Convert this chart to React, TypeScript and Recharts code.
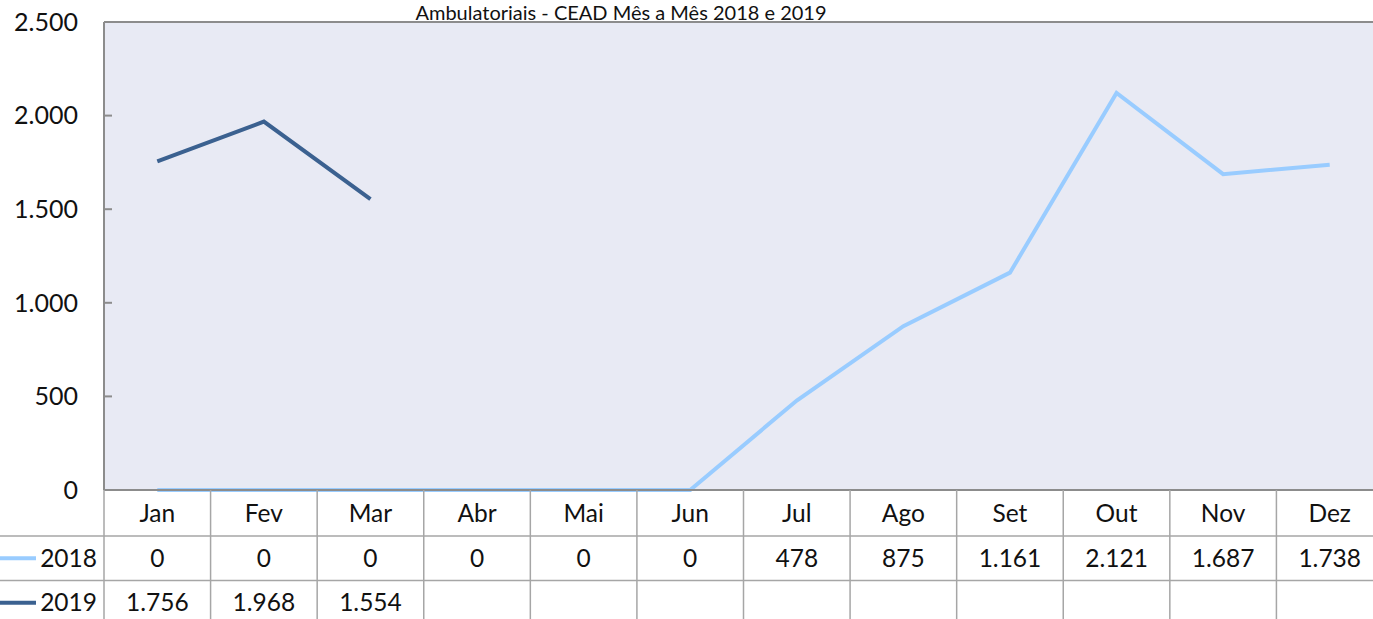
import React from "react";
import {
  LineChart,
  Line,
  XAxis,
  YAxis,
  CartesianGrid,
  ReferenceLine,
} from "recharts";

const months = ["Jan", "Fev", "Mar", "Abr", "Mai", "Jun", "Jul", "Ago", "Set", "Out", "Nov", "Dez"];
const values2018 = [0, 0, 0, 0, 0, 0, 478, 875, 1161, 2121, 1687, 1738];
const values2019: (number | null)[] = [1756, 1968, 1554, null, null, null, null, null, null, null, null, null];
const yTicks = [0, 500, 1000, 1500, 2000, 2500];

const COLOR_2018 = "#99CCFF";
const COLOR_2019 = "#3B6190";
const BORDER = "#8C8C8C";
const GRID = "#A6A6A6";
const FONT = "Lato, 'Open Sans', sans-serif";

const CHART_W = 1383;
const CHART_H = 640;
const Y_AXIS_W = 104;
const PLOT_W = CHART_W - Y_AXIS_W;
const BAND = PLOT_W / months.length;
const HEAD_H = 46;
const ROW_H = 44.5;

const fmt = (n: number) =>
  n.toString().replace(/\B(?=(\d{3})+(?!\d))/g, ".");

const chartData = months.map((m, i) => ({
  month: m,
  y2018: values2018[i],
  y2019: values2019[i],
}));

const YTick = ({ x, y, payload }: any) => (
  <g>
    <text
      x={x}
      y={y}
      dy="0.35em"
      textAnchor="end"
      fontSize={25}
      fontFamily={FONT}
      fill="#111"
    >
      {fmt(payload.value)}
    </text>
    {payload.value !== 0 && payload.value !== 2500 && (
      <line x1={x + 26} x2={x + 34} y1={y} y2={y} stroke={BORDER} strokeWidth={2} />
    )}
  </g>
);

const TableTick = ({ x, y, payload, index }: any) => {
  const left = x - BAND / 2;
  const right = x + BAND / 2;
  const v18 = values2018[index];
  const v19 = values2019[index];
  const line1 = y + HEAD_H;
  const line2 = line1 + ROW_H;
  const rows = [
    { label: "2018", color: COLOR_2018 },
    { label: "2019", color: COLOR_2019 },
  ];
  return (
    <g fontFamily={FONT} fontSize={24.5} fill="#111">
      {/* cell borders */}
      <line x1={right} x2={right} y1={y} y2={y + 200} stroke={GRID} strokeWidth={1.5} />
      <line x1={left} x2={right} y1={line1} y2={line1} stroke={GRID} strokeWidth={1.5} />
      <line x1={left} x2={right} y1={line2} y2={line2} stroke={GRID} strokeWidth={1.5} />
      <text x={x} y={y + HEAD_H / 2} dy="0.35em" textAnchor="middle">
        {payload.value}
      </text>
      <text x={x} y={line1 + ROW_H / 2} dy="0.35em" textAnchor="middle">
        {v18 != null ? fmt(v18) : ""}
      </text>
      <text x={x} y={line2 + ROW_H / 2} dy="0.35em" textAnchor="middle">
        {v19 != null ? fmt(v19) : ""}
      </text>
      {index === 0 && (
        <g>
          <line x1={left} x2={left} y1={y} y2={y + 200} stroke={GRID} strokeWidth={1.5} />
          <line x1={0} x2={left} y1={line1} y2={line1} stroke={GRID} strokeWidth={1.5} />
          <line x1={0} x2={left} y1={line2} y2={line2} stroke={GRID} strokeWidth={1.5} />
          {rows.map((r, i) => {
            const cy = line1 + ROW_H * (0.5 + i);
            return (
              <g key={r.label}>
                <line x1={0} x2={36} y1={cy} y2={cy} stroke={r.color} strokeWidth={4} />
                <text x={left - 7} y={cy} dy="0.35em" textAnchor="end">
                  {r.label}
                </text>
              </g>
            );
          })}
        </g>
      )}
    </g>
  );
};

export default function App() {
  return (
    <div style={{ position: "absolute", left: 0, top: 0, width: 1373, height: 619, overflow: "hidden", background: "#fff" }}>
      <LineChart
        width={CHART_W}
        height={CHART_H}
        data={chartData}
        margin={{ top: 22, right: 0, left: 0, bottom: 0 }}
      >
        <CartesianGrid horizontal={false} vertical={false} fill="#E8EAF4" />
        <XAxis
          dataKey="month"
          scale="band"
          interval={0}
          height={CHART_H - 490}
          tickSize={0}
          tickMargin={0}
          tickLine={false}
          axisLine={{ stroke: BORDER, strokeWidth: 2 }}
          tick={<TableTick />}
        />
        <YAxis
          width={Y_AXIS_W}
          domain={[0, 2500]}
          ticks={yTicks}
          interval={0}
          tickSize={0}
          tickMargin={26}
          tickLine={false}
          axisLine={{ stroke: BORDER, strokeWidth: 2 }}
          tick={<YTick />}
        />
        <ReferenceLine y={2500} stroke={BORDER} strokeWidth={2} />
        <Line
          dataKey="y2018"
          stroke={COLOR_2018}
          strokeWidth={4}
          dot={false}
          isAnimationActive={false}
        />
        <Line
          dataKey="y2019"
          stroke={COLOR_2019}
          strokeWidth={4}
          dot={false}
          isAnimationActive={false}
        />
      </LineChart>
      <svg
        width={1373}
        height={30}
        style={{ position: "absolute", left: 0, top: 0, pointerEvents: "none", overflow: "visible" }}
      >
        <text
          x={621}
          y={20}
          textAnchor="middle"
          fontSize={20}
          fontFamily={FONT}
          fill="#111"
        >
          Ambulatoriais - CEAD Mês a Mês 2018 e 2019
        </text>
      </svg>
    </div>
  );
}
